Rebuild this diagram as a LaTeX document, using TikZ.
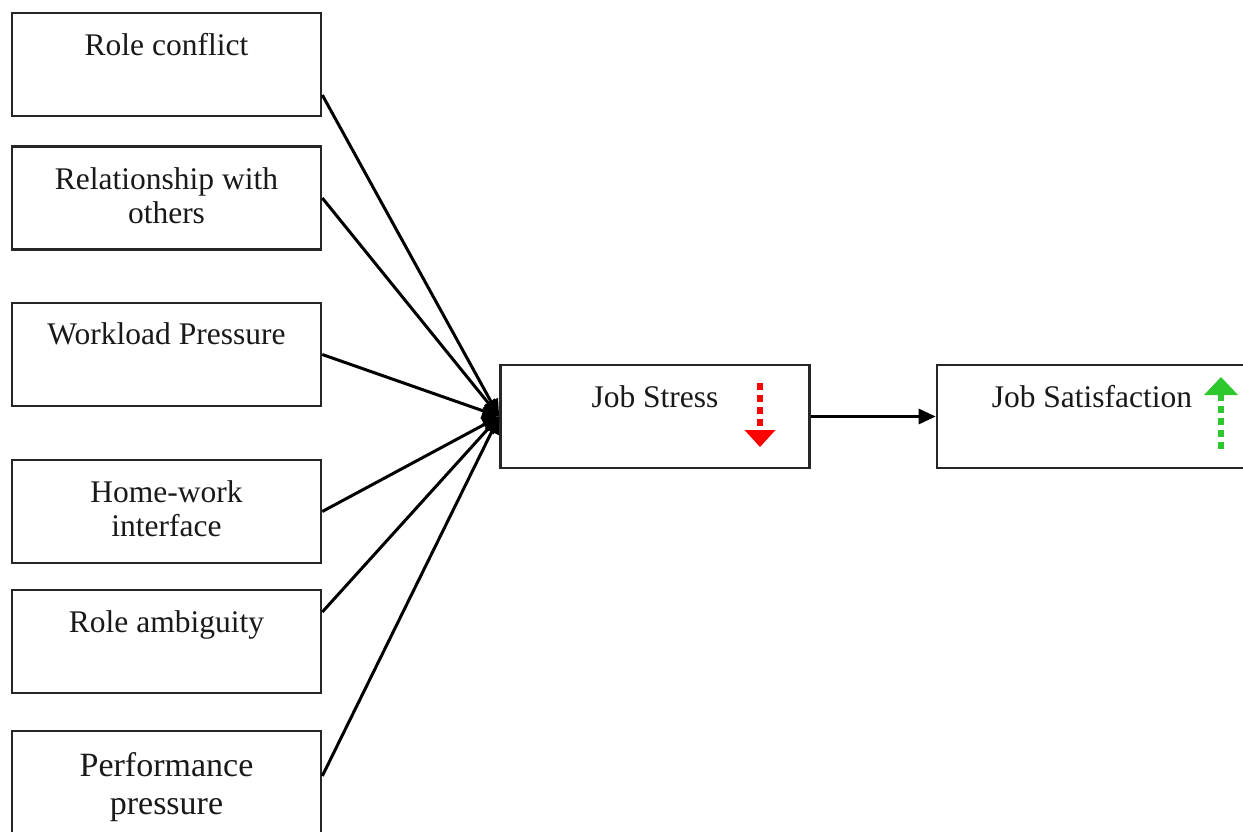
\documentclass[tikz,border=0pt]{standalone}
\usepackage{fontspec}
\setmainfont{Liberation Serif}
\usetikzlibrary{arrows.meta,calc}
\begin{document}
\begin{tikzpicture}[x=1pt,y=-1pt,
  box/.style={draw=black!85,line width=2.6pt,minimum width=309pt,minimum height=103pt,inner sep=0pt},
  txt/.style={anchor=north,inner sep=0pt,align=center,font=\fontsize{31.5}{34}\selectfont,text=black!90},
  bigtxt/.style={anchor=north,inner sep=0pt,align=center,font=\fontsize{34}{38}\selectfont,text=black!90},
  conn/.style={line width=3pt,-{Triangle[length=17pt,width=15pt]}},
  updown/.style={line width=6.5pt,dash pattern=on 7pt off 5pt}]
\useasboundingbox (0,0) rectangle (1243,832);
\fill[white] (0,0) rectangle (1243,832);
% left boxes
\node[box] (rc) at (166.5,64.5) {};
\node[txt] (rct) at (166.5,33) {Role conflict};
\node[box] (rel) at (166.5,198) {};
\node[txt] (relt) at (166.5,167) {Relationship with\\others};
\node[box] (wl) at (166.5,354.5) {};
\node[txt] (wlt) at (166.5,322) {Workload Pressure};
\node[box] (hw) at (166.5,511.5) {};
\node[txt] (hwt) at (166.5,480) {Home-work\\interface};
\node[box] (ra) at (166.5,641.5) {};
\node[txt] (rat) at (166.5,610) {Role ambiguity};
\node[box] (pp) at (166.5,782.5) {};
\node[bigtxt] (ppt) at (166.5,752) {Performance\\pressure};
% right boxes
\node[box] (js) at (655,416.5) {};
\node[txt] (jst) at (655,385) {Job Stress};
\node[box] (sat) at (1091.5,416.5) {};
\node[txt] (satt) at (1092,385) {Job Satisfaction};
% connectors
\coordinate (jsin) at (js.west);
\draw[conn] ($(rc.east)+(0,30.5)$) -- (jsin);
\draw[conn] (rel.east) -- (jsin);
\draw[conn] (wl.east) -- (jsin);
\draw[conn] (hw.east) -- (jsin);
\draw[conn] ($(ra.east)+(0,-29.5)$) -- (jsin);
\draw[conn] ($(pp.east)+(0,-6.5)$) -- (jsin);
\draw[conn] (js.east) -- (sat.west);
% red down arrow
\coordinate (rtop) at (760,383);
\coordinate (rbot) at (760,431);
\draw[red,updown] (rtop) -- (rbot);
\fill[red] (744.5,430) -- (775.5,430) -- (760,447) -- cycle;
% green up arrow
\coordinate (gtop) at (1221,394);
\coordinate (gbot) at (1221,449);
\draw[color={rgb,255:red,45;green,200;blue,45},updown] (gbot) -- (gtop);
\fill[color={rgb,255:red,45;green,200;blue,45}] (1204,395) -- (1238,395) -- (1221,377) -- cycle;
\end{tikzpicture}
\end{document}
